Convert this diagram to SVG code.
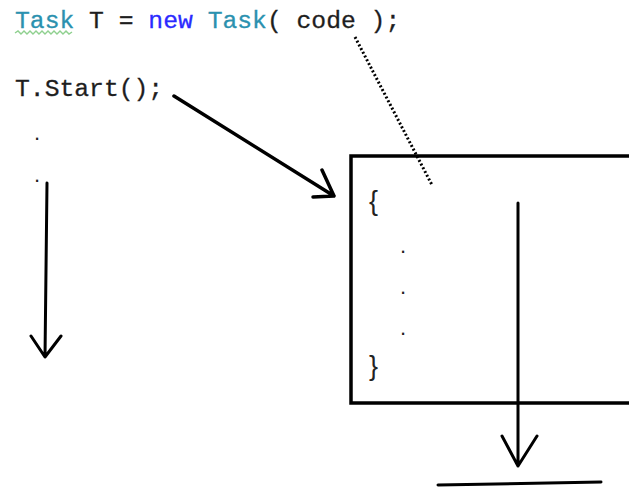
<svg xmlns="http://www.w3.org/2000/svg" width="629" height="488" viewBox="0 0 629 488">
  <style>
    .code { font-family: "Liberation Mono", "DejaVu Sans Mono", monospace; font-size: 24.7px; fill: #1e1e1e; stroke: currentColor; stroke-width: 0.3; }
    .code { color: #1e1e1e; }
    .type { fill: #2b91af; stroke: #2b91af; }
    .kw { fill: #2a2aff; stroke: #2a2aff; }
    .ink { fill: none; stroke: #000; stroke-linecap: round; stroke-linejoin: round; }
    .dot { font-family: "Liberation Sans", Arial, sans-serif; font-size: 22px; fill: #222; }
    .brace { font-family: "Liberation Sans", Arial, sans-serif; font-size: 27px; fill: #222; }
  </style>
  <rect width="629" height="488" fill="#fff"/>

  <!-- caller code -->
  <g id="caller-code">
    <text class="code" x="15" y="28" xml:space="preserve"><tspan class="type">Task</tspan> T = <tspan class="kw">new</tspan> <tspan class="type">Task</tspan>( code );</text>
    <path d="M15 33 l3 -2 l3 3 l3 -3 l3 3 l3 -3 l3 3 l3 -3 l3 3 l3 -3 l3 3 l3 -3 l3 3 l3 -3 l3 3 l3 -3 l3 3 l3 -3 l3 3 l3 -2" fill="none" stroke="#8fd08f" stroke-width="1.4"/>
    <text class="code" x="15" y="96">T.Start();</text>
    <text class="dot" x="34" y="140">.</text>
    <text class="dot" x="34" y="182">.</text>
  </g>

  <!-- task body -->
  <g id="task-box">
    <rect x="351" y="156" width="290" height="247" fill="none" stroke="#000" stroke-width="3.5"/>
    <text class="brace" x="369" y="210">{</text>
    <text class="dot" x="400" y="253">.</text>
    <text class="dot" x="400" y="294">.</text>
    <text class="dot" x="400" y="335">.</text>
    <text class="brace" x="369" y="375">}</text>
  </g>

  <g id="end-bar">
    <path class="ink" d="M438 485 L601 482" stroke-width="3"/>
  </g>

  <!-- connectors -->
  <g id="connectors">
    <!-- main thread continues -->
    <path class="ink" d="M47 183 L45 357 M31 336 L45 357 L61 336" stroke-width="3"/>
    <!-- Start() hands off to the task -->
    <path class="ink" d="M174 96 L334 196 M313 197 L334 196 L322 170" stroke-width="3.5"/>
    <!-- task thread runs down -->
    <path class="ink" d="M518 203 L518 466 M502 436 L518 466 L537 436" stroke-width="3"/>
    <!-- code delegate becomes the task body -->
    <path d="M355 37 L432 185" fill="none" stroke="#000" stroke-width="3" stroke-dasharray="2 2.2"/>
  </g>
</svg>
